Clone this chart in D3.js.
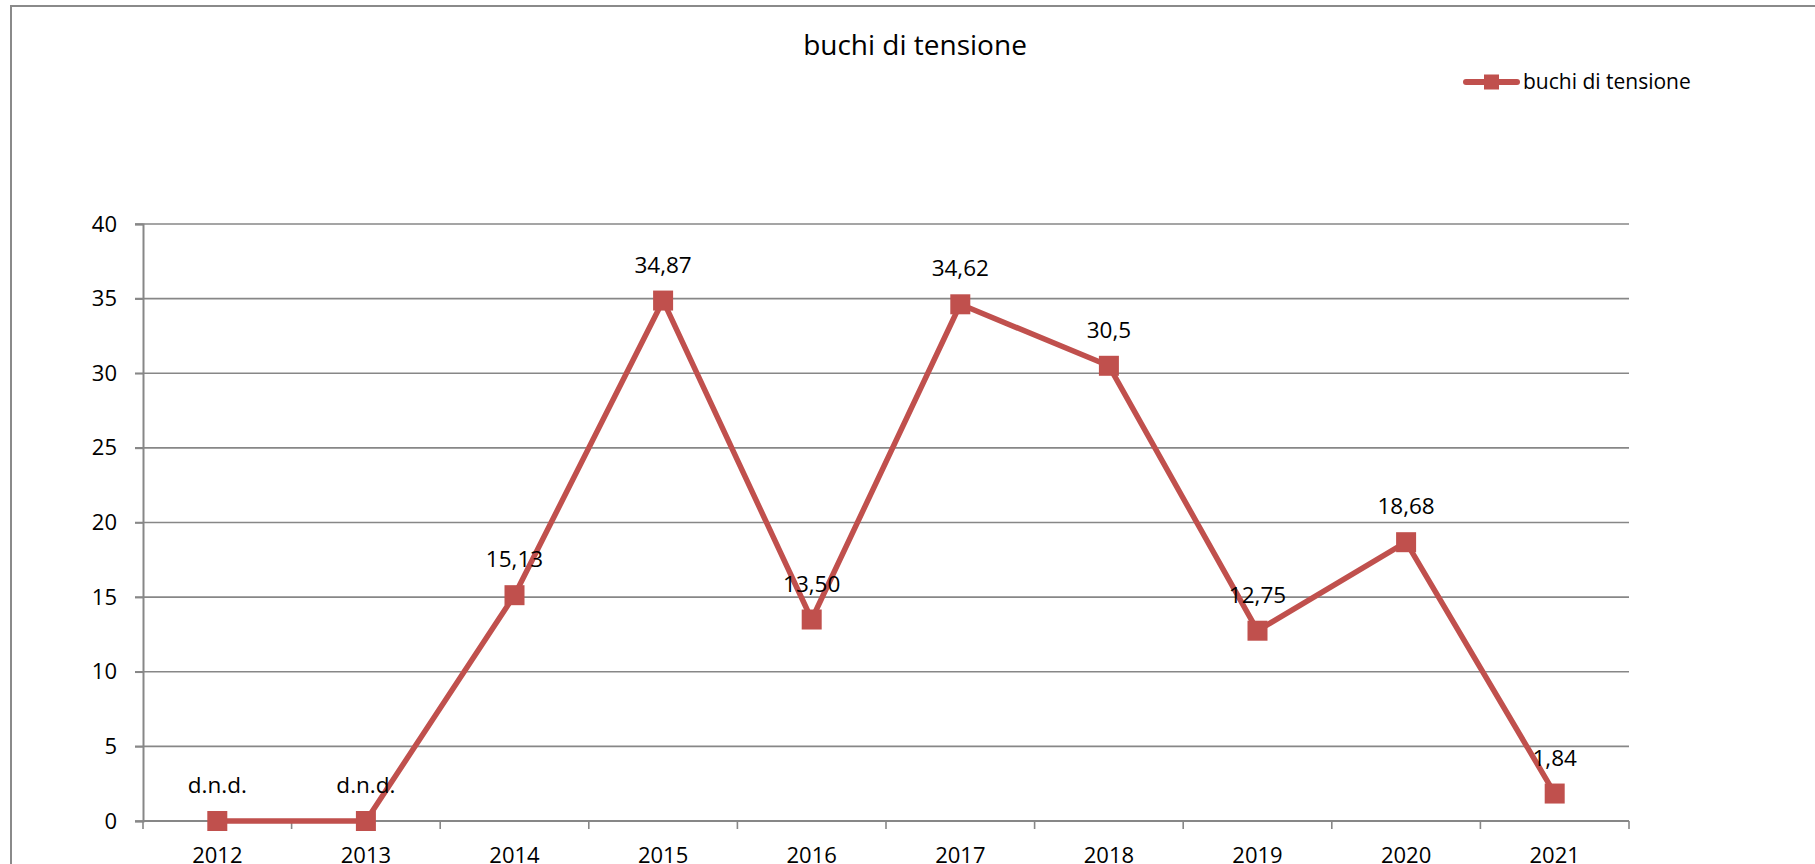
<!DOCTYPE html>
<html>
<head>
<meta charset="utf-8">
<script src="https://cdn.jsdelivr.net/npm/d3@7"></script>
<style>
  html, body { margin: 0; padding: 0; background: #fff; overflow: hidden; }
  svg { display: block; }
  text { font-family: "Open Sans", "Noto Sans", sans-serif; fill: #000; }
</style>
</head>
<body>
<svg id="chart" width="1815" height="864"></svg>
<script>
// ---- data ----
const years = ["2012","2013","2014","2015","2016","2017","2018","2019","2020","2021"];
const values = [0, 0, 15.13, 34.87, 13.50, 34.62, 30.5, 12.75, 18.68, 1.84];
const valueLabels = ["d.n.d.","d.n.d.","15,13","34,87","13,50","34,62","30,5","12,75","18,68","1,84"];
const yTicks = [0, 5, 10, 15, 20, 25, 30, 35, 40];
const seriesName = "buchi di tensione";
const chartTitle = "buchi di tensione";

const RED = "#C0504D";
const GRID = "#878787";

const svg = d3.select("#chart");

// outer frame (left and top border)
svg.append("line").attr("x1", 11).attr("x2", 11).attr("y1", 5).attr("y2", 864)
  .attr("stroke", "#8a8a8a").attr("stroke-width", 2);
svg.append("line").attr("x1", 10).attr("x2", 1815).attr("y1", 6).attr("y2", 6)
  .attr("stroke", "#8a8a8a").attr("stroke-width", 2);

const x = d3.scaleBand().domain(years).range([143, 1629]).padding(0);
const y = d3.scaleLinear().domain([0, 40]).range([821, 224]);

// gridlines
svg.append("g").selectAll("line").data(yTicks).join("line")
  .attr("x1", 135).attr("x2", 1629)
  .attr("y1", d => y(d)).attr("y2", d => y(d))
  .attr("stroke", GRID).attr("stroke-width", 1.6);

// y axis
const yAxis = svg.append("g").attr("transform", "translate(143,0)")
  .call(d3.axisLeft(y).tickValues(yTicks).tickSize(8).tickPadding(18).tickFormat(d3.format("d")));
yAxis.select(".domain").attr("stroke", GRID).attr("stroke-width", 2);
yAxis.selectAll(".tick line").attr("stroke", GRID).attr("stroke-width", 1.6);
yAxis.selectAll(".tick text").style("font-size", "22px").style("font-family", "Open Sans").attr("fill", "#000");

// x axis
const xAxis = svg.append("g").attr("transform", "translate(0,821)")
  .call(d3.axisBottom(x).tickSize(0).tickPadding(0));
xAxis.select(".domain").remove();
xAxis.selectAll(".tick text").attr("y", 42).attr("dy", null)
  .style("font-size", "22px").style("font-family", "Open Sans").attr("fill", "#000");
// x axis line and boundary ticks
svg.append("line").attr("x1", 143).attr("x2", 1629).attr("y1", 821).attr("y2", 821)
  .attr("stroke", GRID).attr("stroke-width", 2);
const boundaries = years.map(d => x(d)).concat([x(years[years.length - 1]) + x.bandwidth()]);
svg.append("g").selectAll("line").data(boundaries).join("line")
  .attr("x1", d => d).attr("x2", d => d).attr("y1", 821).attr("y2", 829)
  .attr("stroke", GRID).attr("stroke-width", 1.6);

// series line
const cx = d => x(d) + x.bandwidth() / 2;
const pts = years.map((yr, i) => [cx(yr), y(values[i])]);
svg.append("path").datum(pts)
  .attr("d", d3.line())
  .attr("fill", "none").attr("stroke", RED).attr("stroke-width", 5.5)
  .attr("stroke-linejoin", "round");

// markers
const ms = 20;
svg.append("g").selectAll("rect").data(pts).join("rect")
  .attr("x", d => d[0] - ms / 2).attr("y", d => d[1] - ms / 2)
  .attr("width", ms).attr("height", ms).attr("fill", RED);

// data labels
svg.append("g").selectAll("text").data(pts).join("text")
  .attr("x", d => d[0]).attr("y", d => d[1] - 28)
  .attr("text-anchor", "middle").style("font-size", "22.5px")
  .text((d, i) => valueLabels[i]);

// title
svg.append("text").attr("x", 915).attr("y", 55).attr("text-anchor", "middle")
  .style("font-size", "28px").text(chartTitle);

// legend
const lg = svg.append("g");
lg.append("line").attr("x1", 1466).attr("x2", 1517).attr("y1", 82).attr("y2", 82)
  .attr("stroke", RED).attr("stroke-width", 6).attr("stroke-linecap", "round");
lg.append("rect").attr("x", 1484).attr("y", 74.5).attr("width", 15).attr("height", 15).attr("fill", RED);
lg.append("text").attr("x", 1523).attr("y", 89).style("font-size", "21px").text(seriesName);
</script>
</body>
</html>
